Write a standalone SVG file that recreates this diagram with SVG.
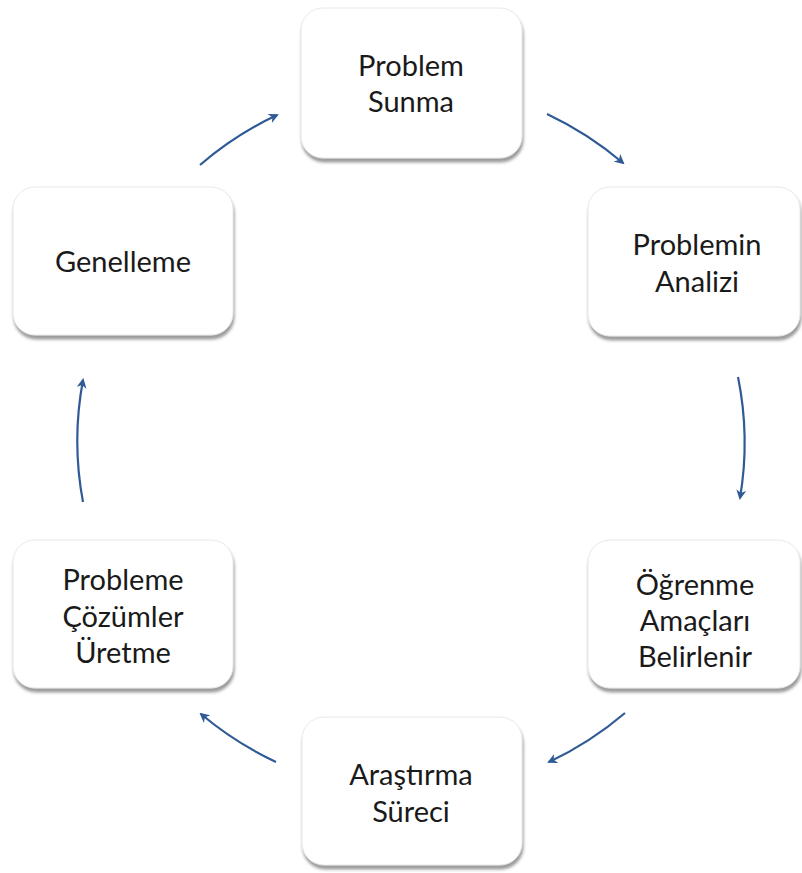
<svg xmlns="http://www.w3.org/2000/svg" width="802" height="873" viewBox="0 0 802 873">
<defs>
<filter id="sh" x="-10%" y="-10%" width="120%" height="125%">
<feDropShadow dx="1" dy="4" stdDeviation="1.8" flood-color="#7a7a7a" flood-opacity="0.75"/>
</filter>
<marker id="ah" viewBox="0 0 10 10" refX="8" refY="5" markerWidth="4.6" markerHeight="4.6" orient="auto" markerUnits="strokeWidth">
<path d="M0,0 L10,5 L0,10 L3,5 Z" fill="#2F5A96"/>
</marker>
<style>
.box{fill:#ffffff;stroke:#e8e8e8;stroke-width:1;filter:url(#sh)}
.t{font-family:Lato,"Open Sans","Liberation Sans",sans-serif;font-size:29px;fill:#1a1a1a;text-anchor:middle}
.c{fill:none;stroke:#2F5A96;stroke-width:2.2;marker-end:url(#ah)}
</style>
</defs>
<rect width="802" height="873" fill="#ffffff"/>
<g id="connectors">
<path class="c" d="M200,165 A340 340 0 0 1 277,115"/>
<path class="c" d="M547,114 A340 340 0 0 1 623,163"/>
<path class="c" d="M738,377 A330 330 0 0 1 740,498"/>
<path class="c" d="M625,713 A340 340 0 0 1 549,762"/>
<path class="c" d="M276,762 A340 340 0 0 1 201,714"/>
<path class="c" d="M83,502 A330 330 0 0 1 83,380"/>
</g>
<g id="n1">
<rect class="box" x="301" y="8" width="221" height="150" rx="22"/>
<text class="t" x="411" y="76">Problem</text>
<text class="t" x="411" y="112">Sunma</text>
</g>
<g id="n2">
<rect class="box" x="588" y="187" width="212" height="149" rx="22"/>
<text class="t" x="697" y="255">Problemin</text>
<text class="t" x="697" y="292">Analizi</text>
</g>
<g id="n3">
<rect class="box" x="588" y="540" width="212" height="148" rx="22"/>
<text class="t" x="695" y="595">Öğrenme</text>
<text class="t" x="695" y="631">Amaçları</text>
<text class="t" x="695" y="667">Belirlenir</text>
</g>
<g id="n4">
<rect class="box" x="302" y="717" width="220" height="148" rx="22"/>
<text class="t" x="411" y="785">Araştırma</text>
<text class="t" x="411" y="822">Süreci</text>
</g>
<g id="n5">
<rect class="box" x="13" y="540" width="220" height="148" rx="22"/>
<text class="t" x="123" y="590">Probleme</text>
<text class="t" x="123" y="627">Çözümler</text>
<text class="t" x="123" y="663">Üretme</text>
</g>
<g id="n6">
<rect class="box" x="13" y="187" width="220" height="148" rx="22"/>
<text class="t" x="123" y="272">Genelleme</text>
</g>
</svg>
